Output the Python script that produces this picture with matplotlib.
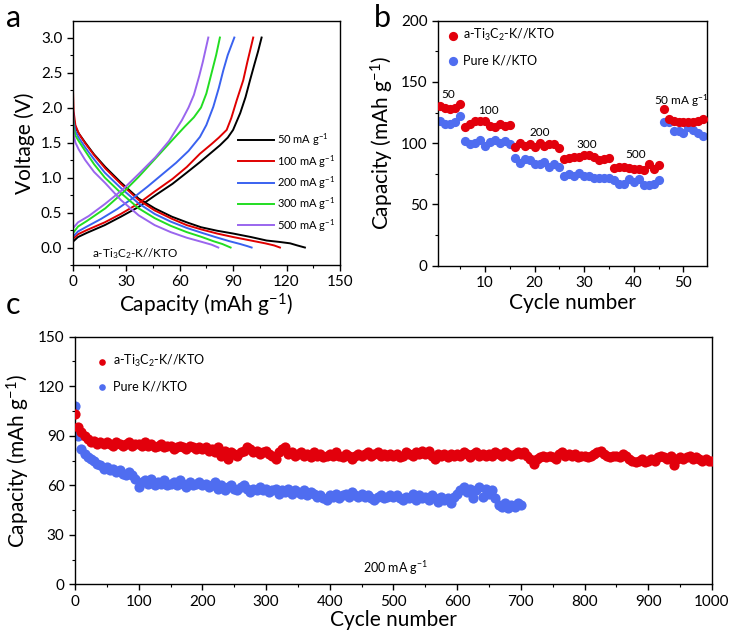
import matplotlib
matplotlib.use("Agg")
import matplotlib.pyplot as plt
from matplotlib.ticker import MultipleLocator
import numpy as np

plt.rcParams['font.family'] = ['Lato', 'DejaVu Sans']
plt.rcParams['mathtext.fontset'] = 'custom'
plt.rcParams['mathtext.rm'] = 'Lato'
plt.rcParams['mathtext.it'] = 'Lato:italic'
plt.rcParams['axes.unicode_minus'] = False

# ---- panel a: charge / discharge profiles ----
rates = ['50', '100', '200', '300', '500']
line_colors = ['#000000', '#e00000', '#3a62f0', '#22dd22', '#9a66ee']

chg_cap = [
    [0, 3, 8, 18, 27, 37, 46, 56, 64, 71.4, 77, 82.6, 87, 90, 92, 94, 97, 99.5, 102, 104, 106],
    [0, 3, 8, 18, 27, 37, 46, 56, 64, 71.4, 78, 82, 86.4, 89, 92, 95.7, 98, 101.3],
    [0, 3, 8, 16, 25, 34, 42, 50, 58, 65, 71.4, 75, 78.9, 82, 84.5, 87, 90.7],
    [0, 3, 8, 18.3, 28, 37, 46, 55.7, 63, 68, 72, 75, 78, 80.5, 82.6],
    [0, 3, 9, 18, 27.7, 37, 46.4, 54, 61.3, 65, 68, 71, 73, 74.5, 76.1],
]
chg_v = [
    [0.08, 0.15, 0.21, 0.32, 0.44, 0.58, 0.74, 0.91, 1.07, 1.22, 1.34, 1.46, 1.57, 1.68, 1.80, 1.92, 2.15, 2.39, 2.62, 2.80, 3.0],
    [0.12, 0.19, 0.25, 0.36, 0.48, 0.63, 0.80, 0.98, 1.15, 1.34, 1.48, 1.57, 1.68, 1.85, 2.10, 2.39, 2.65, 3.0],
    [0.15, 0.23, 0.30, 0.41, 0.55, 0.71, 0.87, 1.04, 1.21, 1.38, 1.58, 1.75, 2.01, 2.28, 2.53, 2.75, 3.0],
    [0.20, 0.30, 0.38, 0.56, 0.78, 1.01, 1.26, 1.53, 1.73, 1.86, 2.00, 2.20, 2.50, 2.75, 3.0],
    [0.27, 0.36, 0.45, 0.62, 0.82, 1.05, 1.29, 1.52, 1.82, 2.00, 2.18, 2.45, 2.65, 2.82, 3.0],
]
dis_cap = [
    [0, 0.5, 1.5, 3.4, 7, 12, 18.3, 27, 37, 46, 55.7, 64, 72, 81, 90, 100, 108.8, 116, 122, 126, 130.3],
    [0, 0.5, 1.5, 3.4, 7, 12, 18.3, 27, 37, 46, 55.7, 64, 72, 81, 90, 100, 108, 113, 116.3],
    [0, 0.5, 1.5, 3.4, 7, 12, 18, 27, 37, 46, 55, 64, 72.5, 80, 88, 94, 98, 100.4],
    [0, 0.5, 1.5, 3.4, 7, 12, 18, 27, 37, 46, 55, 64, 72.5, 79, 84, 88.6],
    [0, 0.5, 1.5, 3.4, 7, 12, 18.3, 27, 37, 46, 55, 64, 72.5, 78, 81.7],
]
dis_v = [
    [2.0, 1.85, 1.72, 1.63, 1.50, 1.33, 1.15, 0.93, 0.70, 0.56, 0.44, 0.36, 0.29, 0.24, 0.20, 0.15, 0.10, 0.08, 0.06, 0.03, 0.0],
    [2.4, 1.95, 1.75, 1.63, 1.49, 1.32, 1.13, 0.91, 0.68, 0.53, 0.41, 0.32, 0.26, 0.20, 0.15, 0.10, 0.06, 0.03, 0.0],
    [2.1, 1.80, 1.66, 1.57, 1.43, 1.26, 1.07, 0.85, 0.63, 0.48, 0.37, 0.28, 0.21, 0.15, 0.09, 0.05, 0.02, 0.0],
    [2.0, 1.72, 1.60, 1.52, 1.38, 1.19, 1.00, 0.78, 0.56, 0.42, 0.31, 0.22, 0.15, 0.09, 0.05, 0.0],
    [1.85, 1.62, 1.50, 1.40, 1.25, 1.08, 0.92, 0.68, 0.46, 0.32, 0.22, 0.14, 0.08, 0.04, 0.0],
]

# ---- panel b: rate capability ----
cycles_b = list(range(1, 55))
rate_ti = [130, 129, 128, 129, 132,
           113.5, 116, 118, 118, 118, 114, 113, 116, 114, 115,
           97, 100, 98, 99, 97, 100, 98, 99, 99, 96,
           87, 88, 89, 89, 90, 90, 89, 86, 87, 88,
           80, 81, 81, 80, 79, 79, 78, 83, 79, 82,
           128, 120, 118, 117, 117, 117, 117, 118, 120]
rate_pure = [118, 116, 116, 117, 122.5,
             102, 99, 100, 103, 98, 101, 103, 100, 102, 99,
             88, 84, 87, 86, 83, 83, 85, 81, 83, 81,
             73, 75, 73, 76, 73, 73, 72, 72, 72, 72,
             70, 67, 67, 71, 68, 71, 66, 66, 67, 70,
             117, 117, 110, 110, 108, 113, 111, 108, 106]
rate_labels = ['50', '100', '200', '300', '500', '50 mA g$^{-1}$']
rate_label_x = [2.5, 10.7, 21.1, 30.5, 40.4, 49.6]
rate_label_y = [140, 127, 108.6, 99, 91, 135]

# ---- panel c: long cycling at 200 mA g-1 (every 5th cycle) ----
cyc_ti = list(range(0, 1001, 5))
cap_ti = [103, 95, 92, 90, 88, 86, 87, 85, 86, 85,
          86, 85, 84, 86, 85, 84, 85, 86, 84, 85,
          85, 84, 86, 84, 85, 83, 84, 85, 83, 84,
          84, 82, 83, 84, 83, 82, 84, 83, 82, 83,
          82, 83, 81, 82, 80, 83, 78, 81, 76, 80,
          79, 78, 80, 81, 83, 82, 80, 81, 79, 80,
          81, 79, 78, 76, 80, 82, 83, 79, 80, 78,
          79, 80, 78, 79, 77, 80, 78, 79, 77, 78,
          79, 78, 80, 78, 77, 79, 78, 76, 78, 79,
          78, 79, 80, 78, 79, 80, 78, 79, 78, 79,
          78, 79, 77, 78, 80, 79, 78, 80, 79, 81,
          79, 81, 78, 76, 79, 78, 79, 77, 79, 78,
          79, 78, 80, 79, 77, 79, 80, 78, 79, 78,
          79, 78, 80, 79, 78, 80, 79, 78, 79, 80,
          79, 80, 78, 76, 73, 76, 77, 78, 77, 78,
          77, 76, 79, 80, 78, 79, 78, 79, 77, 78,
          78, 77, 78, 79, 80, 81, 79, 78, 77, 78,
          78, 77, 79, 78, 76, 75, 74, 75, 76, 74,
          75, 76, 75, 77, 78, 77, 76, 78, 72, 76,
          77, 76, 77, 78, 76, 77, 76, 75, 76, 75,
          75]
cyc_pure = list(range(0, 701, 5))
cap_pure = [108, 90, 82, 79, 77, 76, 75, 73, 72, 70,
            71, 69, 70, 68, 69, 67, 66, 68, 66, 64,
            59, 62, 63, 61, 64, 60, 62, 61, 63, 60,
            61, 62, 60, 63, 61, 59, 62, 60, 61, 62,
            60, 61, 59, 60, 62, 58, 60, 57, 59, 60,
            58, 57, 59, 60, 58, 56, 58, 57, 59, 57,
            58, 56, 57, 58, 55, 57, 56, 58, 55, 57,
            56, 55, 57, 54, 56, 55, 53, 54, 52, 51,
            54, 53, 55, 52, 54, 55, 53, 56, 54, 53,
            55, 53, 54, 52, 51, 53, 54, 52, 53, 54,
            53, 54, 52, 51, 53, 52, 55, 51, 54, 52,
            53, 51, 54, 52, 50, 53, 51, 52, 49, 53,
            55, 57, 59, 56, 58, 52, 57, 59, 53, 58,
            55, 57, 52, 48, 47, 49, 46, 48, 47, 49,
            48]

RED = '#e2000c'
BLUE = '#4f6df0'
lbl_ti = 'a-Ti$_3$C$_2$-K//KTO'
lbl_pure = 'Pure K//KTO'


def style_axis(ax):
    for s in ax.spines.values():
        s.set_linewidth(1.0)
    ax.tick_params(which='major', direction='out', length=4, width=1.0,
                   labelsize=11, top=False, right=False)
    ax.tick_params(which='minor', direction='out', length=2.2, width=0.8,
                   top=False, right=False)


fig = plt.figure(figsize=(7.35, 6.4), dpi=100)

# panel a
ax1 = fig.add_axes([0.0989, 0.5859, 0.3637, 0.3817])
for i in range(len(rates)):
    ax1.plot(chg_cap[i], chg_v[i], color=line_colors[i], lw=1.4,
             label=rates[i] + ' mA g$^{-1}$')
    ax1.plot(dis_cap[i], dis_v[i], color=line_colors[i], lw=1.4)
ax1.set_xlim(0, 150)
ax1.set_ylim(-0.25, 3.24)
ax1.xaxis.set_major_locator(MultipleLocator(30))
ax1.xaxis.set_minor_locator(MultipleLocator(15))
ax1.yaxis.set_major_locator(MultipleLocator(0.5))
ax1.yaxis.set_minor_locator(MultipleLocator(0.25))
style_axis(ax1)
ax1.set_xlabel('Capacity (mAh g$^{-1}$)', fontsize=15, labelpad=2)
ax1.set_ylabel('Voltage (V)', fontsize=15, labelpad=4)
ax1.text(11, -0.08, lbl_ti, fontsize=8.5, va='center', ha='left')
ax1.legend(loc='upper left', bbox_to_anchor=(0.62, 0.545), frameon=False,
           fontsize=8, handlelength=3.2, handletextpad=0.3, labelspacing=0.42,
           borderpad=0, borderaxespad=0)
fig.text(0.008, 0.972, 'a', fontsize=22, va='center')

# panel b
ax2 = fig.add_axes([0.5963, 0.5848, 0.366, 0.3828])
ax2.scatter(cycles_b, rate_ti, s=44, color=RED, lw=0, label=lbl_ti, zorder=3)
ax2.scatter(cycles_b, rate_pure, s=44, color=BLUE, lw=0, label=lbl_pure, zorder=2)
for t, x, y in zip(rate_labels, rate_label_x, rate_label_y):
    ax2.text(x, y, t, fontsize=8.5, ha='center', va='center')
ax2.set_xlim(0.6, 54.8)
ax2.set_ylim(0, 200)
ax2.xaxis.set_major_locator(MultipleLocator(10))
ax2.xaxis.set_minor_locator(MultipleLocator(5))
ax2.yaxis.set_major_locator(MultipleLocator(50))
ax2.yaxis.set_minor_locator(MultipleLocator(25))
style_axis(ax2)
ax2.set_xlabel('Cycle number', fontsize=15, labelpad=2)
ax2.set_ylabel('Capacity (mAh g$^{-1}$)', fontsize=15, labelpad=4)
ax2.legend(loc='upper left', bbox_to_anchor=(0.0, 1.01), frameon=False,
           fontsize=9, handlelength=0.9, handletextpad=0.4, labelspacing=0.9,
           borderpad=0.2, scatterpoints=1)
fig.text(0.508, 0.972, 'b', fontsize=22, va='center')

# panel c
ax3 = fig.add_axes([0.102, 0.087, 0.8667, 0.3869])
ax3.scatter(cyc_ti, cap_ti, s=54, color=RED, lw=0, label=lbl_ti, zorder=3)
ax3.scatter(cyc_pure, cap_pure, s=54, color=BLUE, lw=0, label=lbl_pure, zorder=2)
ax3.set_xlim(0, 1000)
ax3.set_ylim(0, 150)
ax3.xaxis.set_major_locator(MultipleLocator(100))
ax3.xaxis.set_minor_locator(MultipleLocator(50))
ax3.yaxis.set_major_locator(MultipleLocator(30))
ax3.yaxis.set_minor_locator(MultipleLocator(15))
style_axis(ax3)
ax3.set_xlabel('Cycle number', fontsize=15, labelpad=1)
ax3.set_ylabel('Capacity (mAh g$^{-1}$)', fontsize=15, labelpad=4)
ax3.text(504, 10, '200 mA g$^{-1}$', fontsize=9, ha='center', va='center')
ax3.legend(loc='upper left', bbox_to_anchor=(0.02, 0.97), frameon=False,
           fontsize=9, handlelength=0.9, handletextpad=0.4, labelspacing=0.9,
           borderpad=0.2, markerscale=0.65, scatterpoints=1)
fig.text(0.008, 0.523, 'c', fontsize=22, va='center')

fig.savefig('out.png', dpi=100)
